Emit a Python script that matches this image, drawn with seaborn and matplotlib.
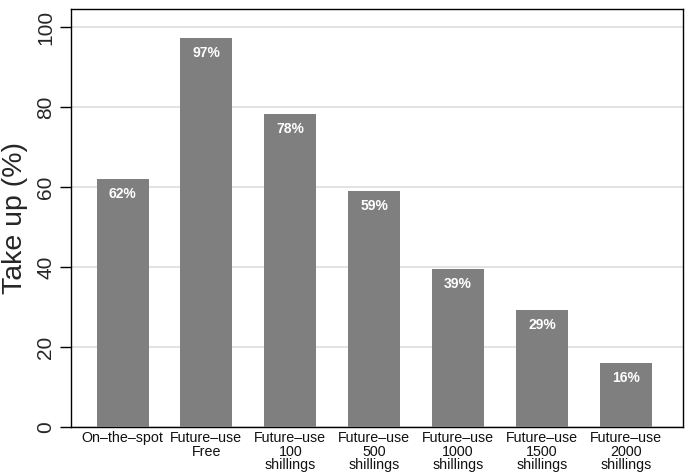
import matplotlib
matplotlib.use("Agg")
import matplotlib.pyplot as plt
import seaborn as sns
import pandas as pd

categories = ["On\u2013the\u2013spot", "Future\u2013use\nFree", "Future\u2013use\n100\nshillings",
              "Future\u2013use\n500\nshillings", "Future\u2013use\n1000\nshillings",
              "Future\u2013use\n1500\nshillings", "Future\u2013use\n2000\nshillings"]
values = [62.1, 97.4, 78.4, 59.0, 39.5, 29.3, 16.1]
labels = ["62%", "97%", "78%", "59%", "39%", "29%", "16%"]
yticks = [0, 20, 40, 60, 80, 100]

sns.set_style("white")
plt.rcParams['font.family'] = ['Liberation Sans', 'DejaVu Sans']

df = pd.DataFrame({"cat": categories, "val": values})
fig = plt.figure(figsize=(6.85, 4.75), dpi=100)
ax = fig.add_axes([70.5/685, 1 - 427/475, (683 - 70.5)/685, (427 - 9)/475])

sns.barplot(data=df, x="cat", y="val", color="#7f7f7f", saturation=1, width=0.62, ax=ax, zorder=3)
for p in ax.patches:
    p.set_edgecolor("none")

ax.set_ylim(0, 104.6)
ax.set_xlim(-0.62, 6.68)
ax.set_yticks(yticks)
ax.set_yticklabels([str(t) for t in yticks], rotation=90, va="center", fontsize=15)
ax.tick_params(axis="y", length=8, width=1, color="black", pad=3, left=True)
ax.tick_params(axis="x", length=0, pad=3, labelsize=10.3, labelcolor="#111111")
for t in ax.get_xticklabels():
    t.set_linespacing(0.95)
ax.yaxis.grid(True, color="#dedede", linewidth=1.2, zorder=0)
ax.set_axisbelow(True)
for s in ax.spines.values():
    s.set_color("black")
    s.set_linewidth(1.0)
    s.set_visible(True)
ax.set_xlabel("")
ax.set_ylabel("Take up (%)", fontsize=20.5, labelpad=6)

for i, (v, lab) in enumerate(zip(values, labels)):
    ax.text(i, v - 3.8, lab, color="white", ha="center", va="center", fontsize=10, fontweight="bold", zorder=5)

fig.savefig("out.png", dpi=100)
